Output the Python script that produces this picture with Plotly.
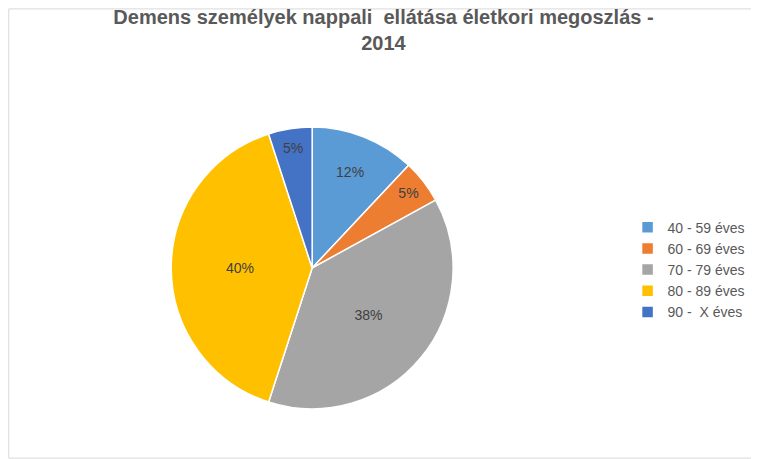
import plotly.graph_objects as go

labels = ["40 - 59 éves", "60 - 69 éves", "70 - 79 éves", "80 - 89 éves", "90 -  X éves"]
values = [12, 5, 38, 40, 5]
colors = ["#5B9BD5", "#ED7D31", "#A5A5A5", "#FFC000", "#4472C4"]

fig = go.Figure(go.Pie(
    labels=labels, values=values, sort=False, direction="clockwise", rotation=0,
    marker=dict(colors=colors, line=dict(color="white", width=1.5)),
    texttemplate="%{percent:.0%}", textinfo="percent", textposition="inside",
    insidetextorientation="horizontal",
    textfont=dict(color="#404040", size=14, family="Liberation Sans"),
    domain=dict(x=[0.217, 0.593], y=[0.111, 0.736]),
))
fig.update_layout(
    width=751, height=451, margin=dict(l=0, r=0, t=0, b=0),
    paper_bgcolor="white",
    title=dict(text="<b>Demens személyek nappali  ellátása életkori megoszlás -<br>2014</b>",
               x=0.5, xanchor="center", y=0.965, yanchor="top",
               font=dict(size=20, color="#595959", family="Liberation Sans")),
    legend=dict(x=0.825, y=0.42, yanchor="middle", xanchor="left",
                font=dict(size=14, color="#595959", family="Liberation Sans"),
                tracegroupgap=12, itemwidth=30),
    shapes=[dict(type="rect", xref="paper", yref="paper", x0=0.001, y0=0.002, x1=0.999, y1=0.998,
                 line=dict(color="#D9D9D9", width=1))],
)
fig.write_html("out.html")
